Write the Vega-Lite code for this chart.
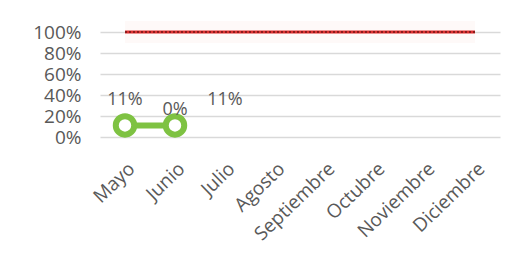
{
  "$schema": "https://vega.github.io/schema/vega-lite/v6.json",
  "autosize": {"type": "none"},
  "width": 400,
  "height": 105,
  "padding": {"left": 100, "top": 32, "right": 21, "bottom": 133},
  "background": "white",
  "config": {"view": {"stroke": null}, "font": "Open Sans"},
  "datasets": {
    "meta": [
      {"mes": "Mayo", "v": 1},
      {"mes": "Junio", "v": 1},
      {"mes": "Julio", "v": 1},
      {"mes": "Agosto", "v": 1},
      {"mes": "Septiembre", "v": 1},
      {"mes": "Octubre", "v": 1},
      {"mes": "Noviembre", "v": 1},
      {"mes": "Diciembre", "v": 1}
    ],
    "real": [
      {"mes": "Mayo", "v": 0.11},
      {"mes": "Junio", "v": 0.11}
    ],
    "etiquetas": [
      {"mes": "Mayo", "texto": "11%", "v": 0.35},
      {"mes": "Junio", "texto": "0%", "v": 0.26},
      {"mes": "Julio", "texto": "11%", "v": 0.35}
    ]
  },
  "encoding": {
    "x": {
      "field": "mes", "type": "nominal", "sort": null,
      "scale": {"domain": ["Mayo","Junio","Julio","Agosto","Septiembre","Octubre","Noviembre","Diciembre"], "paddingOuter": 0.5},
      "axis": {"title": null, "labelAngle": -44, "labelAlign": "right", "labelBaseline": "top", "labelFontSize": 19, "labelColor": "#595959", "domain": false, "ticks": false, "labelPadding": 22, "labelOverlap": false}
    },
    "y": {"field": "v", "type": "quantitative",
      "scale": {"domain": [0, 1]},
      "axis": {"title": null, "format": ".0%", "values": [0, 0.2, 0.4, 0.6, 0.8, 1], "labelFontSize": 19, "labelColor": "#595959", "domain": false, "ticks": false, "labelPadding": 19, "labelOverlap": false, "labelFlush": false, "gridColor": "#d9d9d9", "gridWidth": 1.5}
    }
  },
  "layer": [
    {
      "data": {"name": "meta"},
      "mark": {"type": "line", "color": "#fdeeea", "strokeWidth": 22, "opacity": 0.35}
    },
    {
      "data": {"name": "meta"},
      "mark": {"type": "line", "color": "#e03030", "strokeWidth": 3}
    },
    {
      "data": {"name": "meta"},
      "mark": {"type": "line", "color": "#8b1a1a", "strokeWidth": 2, "strokeDash": [2, 2]}
    },
    {
      "data": {"name": "real"},
      "mark": {"type": "line", "color": "#7ec242", "strokeWidth": 6}
    },
    {
      "data": {"name": "real"},
      "mark": {"type": "point", "shape": "circle", "filled": true, "fill": "white", "stroke": "#7ec242", "strokeWidth": 6, "size": 340, "opacity": 1}
    },
    {
      "data": {"name": "etiquetas"},
      "mark": {"type": "text", "fontSize": 18, "color": "#595959", "baseline": "middle"},
      "encoding": {"text": {"field": "texto"}}
    }
  ]
}
